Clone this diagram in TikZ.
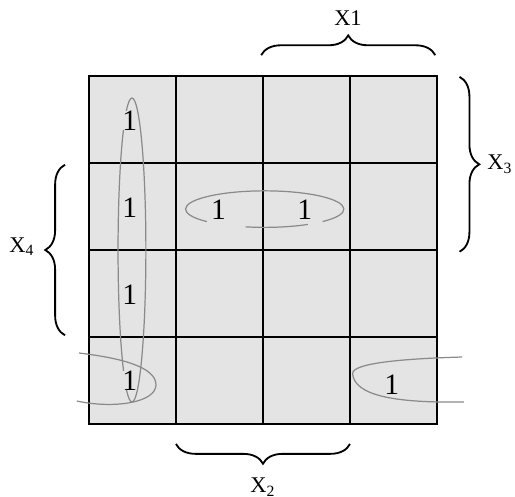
\documentclass[tikz,border=0pt]{standalone}
\usepackage{fontspec}
\setmainfont{Liberation Serif}
\usetikzlibrary{decorations.pathreplacing}
\definecolor{cellgray}{HTML}{E4E4E4}
\definecolor{loopgray}{HTML}{8A8A8A}
\tikzset{
	gridline/.style={line width=1.4pt, line join=miter},
	one/.style={font=\fontsize{14.5}{16}\selectfont, inner sep=0pt},
	lbl/.style={font=\fontsize{11}{13}\selectfont, inner sep=0pt},
	grp/.style={draw=loopgray, line width=0.6pt},
	% brace with given amplitude (default 0.34cm)
	brc/.style={decorate, decoration={brace, amplitude=#1}, line width=0.9pt},
	brc/.default=0.34cm
}

\begin{document}
\begin{tikzpicture}[x=1.5cm, y=1.5cm]
		\useasboundingbox (-1.023,-0.839) rectangle (4.897,4.874);
		
		% Cells
		\fill[cellgray] (0,0) rectangle (4,4);
		\draw[gridline, step=1] (0,0) grid (4,4);
		\draw[gridline] (0,0) rectangle (4,4);
		
		% Groups
		\draw[grp] (0.494,2.0) ellipse [x radius=0.16, y radius=1.747];
		\draw[grp] (2.02,2.47) ++(-43:0.91 and 0.21) arc[start angle=-43, end angle=223, x radius=0.91, y radius=0.21];
		\draw[grp] (2.02,2.47) ++(256:0.91 and 0.21) arc[start angle=256, end angle=303, x radius=0.91, y radius=0.21];
		\draw[grp] (-0.115,0.816) .. controls (0.35,0.76) and (0.77,0.66) .. (0.77,0.45)
			.. controls (0.77,0.25) and (0.3,0.17) .. (-0.14,0.264);
		\draw[grp] (4.29,0.77) .. controls (3.6,0.75) and (3.03,0.70) .. (3.03,0.58)
			.. controls (3.05,0.33) and (3.5,0.24) .. (4.31,0.253);
		
		% Ones
		\foreach \r/\y in {1/3.49, 2/2.49, 3/1.49, 4/0.50}{
			\node[one, fill=cellgray] (c\r1) at (0.47,\y) {1};
		}
		\node[one] (c22) at (1.49,2.46) {1};
		\node[one] (c23) at (2.48,2.46) {1};
		\node[one] (c44) at (3.48,0.45) {1};
		
		% Braces
		\coordinate (b1a) at (1.98,4.24);
		\coordinate (b1b) at (3.98,4.24);
		\coordinate (b3a) at (4.26,3.99);
		\coordinate (b3b) at (4.26,1.98);
		\coordinate (b2a) at (3.0,-0.23);
		\coordinate (b2b) at (1.0,-0.23);
		\coordinate (b4a) at (-0.276,1.02);
		\coordinate (b4b) at (-0.276,2.98);
		\draw[brc] (b1a) -- (b1b);
		\draw[brc] (b3a) -- (b3b);
		\draw[brc] (b2a) -- (b2b);
		\draw[brc] (b4a) -- (b4b);
		
		\node[lbl, anchor=base] (x1) at (2.977,4.586) {X1};
		\node[lbl, anchor=base west] (x3) at (4.575,2.92) {X\textsubscript{3}};
		\node[lbl, anchor=base west] (x2) at (1.85,-0.79) {X\textsubscript{2}};
		\node[lbl, anchor=base west] (x4) at (-0.92,1.977) {X\textsubscript{4}};
	\end{tikzpicture}
\end{document}
